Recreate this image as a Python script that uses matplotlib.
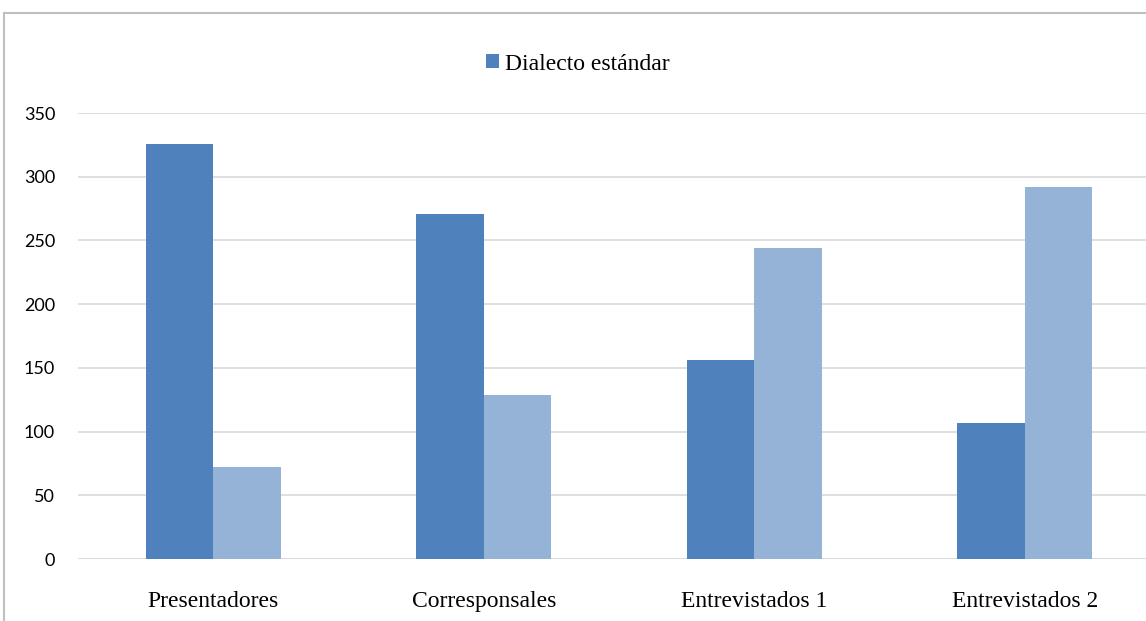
import matplotlib.pyplot as plt
from matplotlib.patches import Rectangle
import numpy as np

categories = ["Presentadores", "Corresponsales", "Entrevistados 1", "Entrevistados 2"]
dialecto_estandar = [326, 271, 156, 107]
otra_serie = [72, 129, 244, 292]
yticks = [0, 50, 100, 150, 200, 250, 300, 350]

dark = "#4F81BD"
light = "#95B3D7"
grid = "#D9D9D9"

fig = plt.figure(figsize=(11.46, 6.21), dpi=100)
# axes runs a little past the right edge of the canvas
ax = fig.add_axes([78 / 1146, 1 - 559 / 621, 1082 / 1146, (559 - 113) / 621])

x = np.arange(len(categories))
w = 0.25
ax.bar(x - w / 2, dialecto_estandar, w, color=dark, label="Dialecto estándar", zorder=3)
ax.bar(x + w / 2, otra_serie, w, color=light, zorder=3)

ax.set_xlim(-0.5, len(categories) - 0.5)
ax.set_ylim(0, 350)
ax.set_yticks(yticks)
ax.yaxis.grid(True, color=grid, lw=1.2, zorder=0)
ax.set_axisbelow(True)
for s in ax.spines.values():
    s.set_visible(False)
ax.axhline(0, color=grid, lw=1.2, zorder=2)

ax.set_xticks(x)
ax.set_xticklabels(categories, family="Liberation Serif", fontsize=17)
ax.tick_params(axis="x", length=0, pad=23)
ax.tick_params(axis="y", length=0, pad=16.5, labelsize=13)
for lab in ax.get_yticklabels():
    lab.set_family("Lato")

leg = fig.legend(loc="center", bbox_to_anchor=(578 / 1146, 1 - 64 / 621), frameon=False,
                 prop={"family": "Liberation Serif", "size": 17},
                 handlelength=0.55, handleheight=0.55, handletextpad=0.25)

# outer chart border
fig.patches.append(Rectangle((4 / 1146, -0.1), 1.2, 1 - 13 / 621 + 0.1, transform=fig.transFigure,
                             fill=False, ec="#BFBFBF", lw=1.5))

fig.savefig("out.png", dpi=100)
